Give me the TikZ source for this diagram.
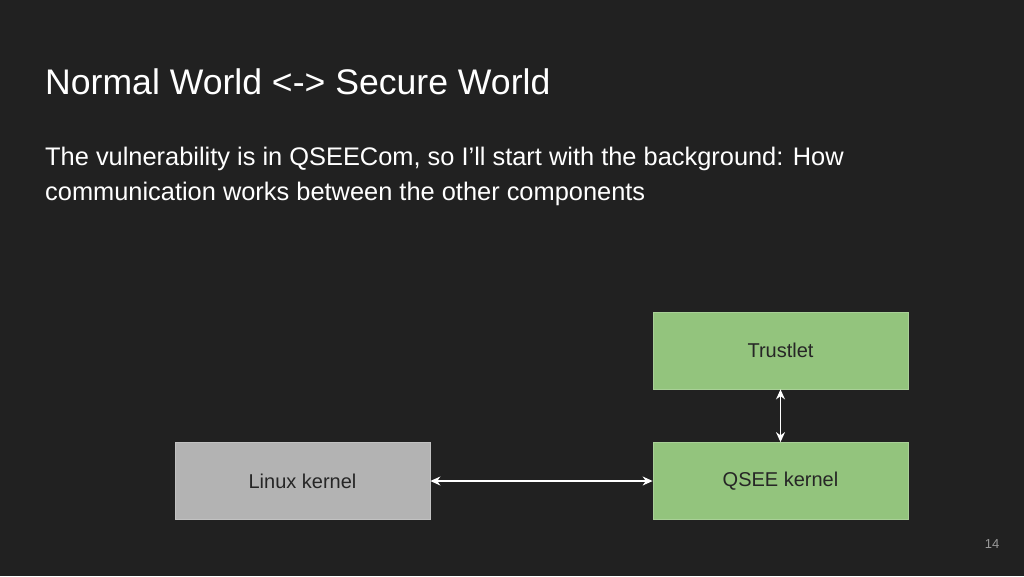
\documentclass[tikz,border=0pt]{standalone}
\usepackage{fontspec}
\setmainfont{Liberation Sans}
\usetikzlibrary{arrows.meta}
\definecolor{bg}{HTML}{212121}
\definecolor{grn}{HTML}{93C47D}
\definecolor{gry}{HTML}{B3B3B3}
\begin{document}
\begin{tikzpicture}[x=1pt,y=-1pt,
  box/.style={minimum width=255pt,minimum height=77pt,inner sep=0pt,draw=#1!80!white,line width=0.8pt,font=\fontsize{20}{22}\selectfont,text=black!85},
  conn/.style={white,line width=1.3pt,{Stealth[length=10pt,width=9pt]}-{Stealth[length=10pt,width=9pt]}}]
\fill[bg] (0,0) rectangle (1024,576);
\useasboundingbox (0,0) rectangle (1024,576);
\node[anchor=base west,text=white,font=\fontsize{35.6}{40}\selectfont,inner sep=0pt] (title) at (45,94) {Normal World <-> Secure World};
\node[anchor=north west,text=white,font=\fontsize{25.4}{35}\selectfont,inner sep=0pt,align=left] (body) at (45,147) {The vulnerability is in QSEECom, so I’ll start with the background: How\\communication works between the other components};
\node[box=grn,fill=grn] (tl) at (780.5,350.5) {Trustlet};
\node[box=grn,fill=grn] (qk) at (780.5,481) {QSEE kernel};
\node[box=gry,fill=gry] (lk) at (302.5,481) {Linux kernel};
\draw[conn] (lk.east) -- (qk.west);
\draw[conn] (tl.south) -- (qk.north);
\node[text=gray!80,font=\fontsize{13}{14}\selectfont] (pg) at (992,544) {14};
\end{tikzpicture}
\end{document}
